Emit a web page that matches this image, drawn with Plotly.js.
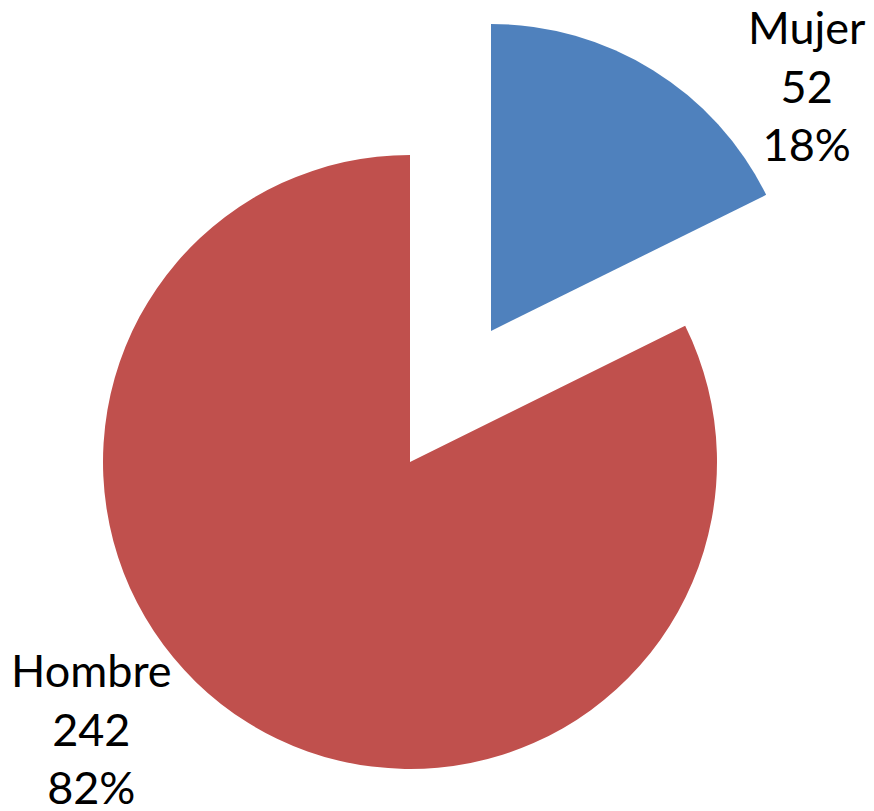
<!DOCTYPE html>
<html>
<head>
<meta charset="utf-8">
<script src="https://cdn.plot.ly/plotly-3.0.1.min.js"></script>
<style>html,body{margin:0;padding:0;background:#fff;}#chart{width:874px;height:811px;}</style>
</head>
<body>
<div id="chart"></div>
<script>
// Data
const categories = ["Mujer", "Hombre"];
const values = [52, 242];
const colors = ["#4F81BD", "#C0504D"];

const total = values.reduce((a, b) => a + b, 0);
const pct = values.map(v => Math.round(v / total * 100) + "%");
const labelText = categories.map((c, i) => c + "<br>" + values[i] + "<br>" + pct[i]);

const transparent = "rgba(0,0,0,0)";

// Hombre (main) pie, Mujer hidden
const traceMain = {
  type: "pie",
  labels: categories,
  values: values,
  sort: false,
  direction: "clockwise",
  rotation: 0,
  textinfo: "none",
  hoverinfo: "skip",
  showlegend: false,
  marker: { colors: [transparent, colors[1]], line: { width: 0 } },
  domain: { x: [103 / 874, 717 / 874], y: [42 / 811, 656 / 811] }
};

// Exploded Mujer slice, Hombre hidden
const traceExploded = {
  type: "pie",
  labels: categories,
  values: values,
  sort: false,
  direction: "clockwise",
  rotation: 0,
  textinfo: "none",
  hoverinfo: "skip",
  showlegend: false,
  marker: { colors: [colors[0], transparent], line: { width: 0 } },
  domain: { x: [184 / 874, 798 / 874], y: [173 / 811, 787 / 811] }
};

const labelFont = { family: "Lato, 'Open Sans', sans-serif", size: 45, color: "#000000" };

const layout = {
  width: 874,
  height: 811,
  margin: { l: 0, r: 0, t: 0, b: 0 },
  paper_bgcolor: "#ffffff",
  showlegend: false,
  annotations: [
    { text: labelText[0], xref: "paper", yref: "paper", x: 807 / 874, y: 1 - 86 / 811,
      xanchor: "center", yanchor: "middle", showarrow: false, align: "center", font: labelFont },
    { text: labelText[1], xref: "paper", yref: "paper", x: 91 / 874, y: 1 - 728 / 811,
      xanchor: "center", yanchor: "middle", showarrow: false, align: "center", font: labelFont }
  ]
};

Plotly.newPlot("chart", [traceMain, traceExploded], layout, { displayModeBar: false, staticPlot: true });
</script>
</body>
</html>
